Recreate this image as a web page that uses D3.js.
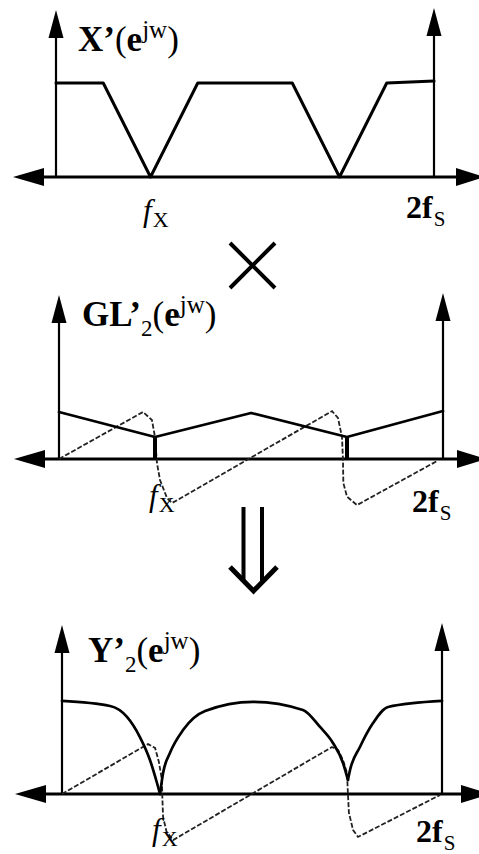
<!DOCTYPE html>
<html><head><meta charset="utf-8">
<script src="https://cdn.jsdelivr.net/npm/d3@7"></script>
<style>html,body{margin:0;padding:0;background:#fff;} svg{display:block;}</style>
</head><body>
<script>
// Frequency axis runs from 0 to 2 (units of f_s); magnitudes are relative.
const freqDomain = [0, 2];

// X'(e^jw): trapezoidal spectrum with nulls at f_x and its mirror
const xMag = [[0,1],[0.25,1],[0.5,0],[0.75,1],[1.25,1],[1.5,0],[1.75,1],[2,1.02]];

// GL'_2(e^jw): magnitude (solid) and phase (dashed)
const glMag = [[0,0.5],[0.5,0.234],[1,0.49],[1.5,0.234],[2,0.51]];
const glNotches = [0.5, 1.5];
const glPhase = [[0,0],[0.4375,0.5],[0.484,0.415],[0.5,0.234],[0.51,-0.04],[0.526,-0.223],[0.5625,-0.415],[0.589,-0.468],
  [1.422,0.51],[1.453,0.436],[1.474,0.234],[1.479,-0.01],[1.481,-0.255],[1.5,-0.4],[1.552,-0.49],[1.97,-0.02]];

// Y'_2(e^jw): product magnitude (three lobes) and phase
const yMagArcs = [
  [[0,0.99],[0.253,0.936],[0.342,0.82],[0.41,0.606],[0.463,0.362],[0.5,0.117],[0.516,0]],
  [[0.516,0],[0.532,0.223],[0.568,0.436],[0.637,0.68],[0.753,0.883],[1.005,0.98],[1.268,0.894],[1.358,0.713],[1.426,0.543],[1.479,0.33],[1.505,0.15]],
  [[1.505,0.15],[1.516,0.255],[1.568,0.5],[1.637,0.755],[1.716,0.926],[2,0.99]]
];
const yPhase = [[0,0],[0.453,0.532],[0.49,0.49],[0.51,0.34],[0.526,0.149],[0.528,-0.03],[0.532,-0.245],[0.55,-0.4],[0.585,-0.49],
  [1.421,0.5],[1.453,0.468],[1.479,0.36],[1.5,0.223],[1.505,0],[1.51,-0.2],[1.532,-0.383],[1.558,-0.457],[1.99,-0.01]];

// axis labels
const fxLabel = ["f", "X"];
const fsLabel = ["2f", "S"];

const W = 479, H = 854;
const svg = d3.select("body").append("svg").attr("width", W).attr("height", H);
const SERIF = "'Liberation Serif','Times New Roman',serif";

// panel frames
const frames = [
  {x0:56, x1:434, base:177, tipL:10, tipR:8,  left:13, rightBase:456,
   title:{x:78, y:51, main:"X’", sub:null}, fx:{x:143, y:221, dy:6}, fs:{x:406, y:218}},
  {x0:59, x1:443, base:459, tipL:295, tipR:293, left:14, rightBase:457,
   title:{x:82, y:326, main:"GL’", sub:"2"}, fx:{x:149, y:506, dy:6}, fs:{x:412, y:512}},
  {x0:62, x1:442, base:794, tipL:625, tipR:623, left:15, rightBase:461,
   title:{x:88, y:662, main:"Y’", sub:"2"}, fx:{x:152, y:840, dy:6}, fs:{x:416, y:842}}
];

const unitPx = 94;

function makeScales(f) {
  const x = d3.scaleLinear().domain(freqDomain).range([f.x0, f.x1]);
  const y = d3.scaleLinear().domain([0, 1]).range([f.base, f.base - unitPx]);
  return {x, y};
}

function drawFrame(f, s) {
  const g = svg.append("g");
  const yb = s.y(0);
  // horizontal axis with arrowheads at both ends
  g.append("line").attr("x1", f.left + 10).attr("x2", f.rightBase + 5)
    .attr("y1", yb).attr("y2", yb).attr("stroke", "#000").attr("stroke-width", 3);
  g.append("path").attr("d", `M${f.left},${yb} L${f.left + 31},${yb - 9} L${f.left + 31},${yb + 9} Z`).attr("fill", "#000");
  g.append("path").attr("d", `M${f.rightBase + 29},${yb} L${f.rightBase},${yb - 9} L${f.rightBase},${yb + 9} Z`).attr("fill", "#000");
  // vertical axes at 0 and 2f_s
  [[s.x(freqDomain[0]), f.tipL], [s.x(freqDomain[1]), f.tipR]].forEach(([vx, tip]) => {
    g.append("line").attr("x1", vx).attr("x2", vx).attr("y1", tip + 15).attr("y2", yb)
      .attr("stroke", "#000").attr("stroke-width", 2.2);
    g.append("path").attr("d", `M${vx},${tip} L${vx - 7.5},${tip + 28} L${vx + 7.5},${tip + 28} Z`).attr("fill", "#000");
  });
  return g;
}

function drawTitle(f) {
  const t = svg.append("text").attr("x", f.title.x).attr("y", f.title.y)
    .attr("font-family", SERIF).attr("fill", "#000");
  t.append("tspan").attr("font-weight", "bold").attr("font-size", 35).text(f.title.main);
  let shift = 0;
  if (f.title.sub) {
    t.append("tspan").attr("font-size", 23).attr("dy", 10).text(f.title.sub);
    shift = 10;
  }
  t.append("tspan").attr("font-size", 35).attr("dy", -shift).text("(");
  t.append("tspan").attr("font-weight", "bold").attr("font-size", 35).text("e");
  t.append("tspan").attr("font-size", 25).attr("dy", -13).text("jw");
  t.append("tspan").attr("font-size", 35).attr("dy", 13).text(")");
}

function drawTicks(f) {
  const a = svg.append("text").attr("x", f.fx.x).attr("y", f.fx.y).attr("font-family", SERIF).attr("fill", "#000");
  a.append("tspan").attr("font-style", "italic").attr("font-size", 31).text(fxLabel[0]);
  a.append("tspan").attr("font-size", 22).attr("dy", f.fx.dy).attr("dx", 1).text(fxLabel[1]);
  const b = svg.append("text").attr("x", f.fs.x).attr("y", f.fs.y).attr("font-family", SERIF).attr("fill", "#000");
  b.append("tspan").attr("font-weight", "bold").attr("font-size", 32).text(fsLabel[0]);
  b.append("tspan").attr("font-size", 21).attr("dy", 8).attr("dx", 1).text(fsLabel[1]);
}

const solid = (sel, w) => sel.attr("fill", "none").attr("stroke", "#000").attr("stroke-width", w)
  .attr("stroke-linejoin", "round").attr("stroke-linecap", "round");
const dashed = sel => sel.attr("fill", "none").attr("stroke", "#222").attr("stroke-width", 1.8)
  .attr("stroke-dasharray", "5 2");

// ---- panel 1: X'(e^jw)
{
  const f = frames[0], s = makeScales(f);
  drawFrame(f, s);
  const line = d3.line().x(d => s.x(d[0])).y(d => s.y(d[1]));
  solid(svg.append("path").attr("d", line(xMag)), 3);
  drawTitle(f); drawTicks(f);
}

// ---- panel 2: GL'_2(e^jw)
{
  const f = frames[1], s = makeScales(f);
  drawFrame(f, s);
  const line = d3.line().x(d => s.x(d[0])).y(d => s.y(d[1]));
  dashed(svg.append("path").attr("d", line(glPhase)));
  solid(svg.append("path").attr("d", line(glMag)), 2.7);
  glNotches.forEach(n => {
    const v = glMag.find(d => d[0] === n)[1];
    svg.append("line").attr("x1", s.x(n)).attr("x2", s.x(n)).attr("y1", s.y(v)).attr("y2", s.y(0))
      .attr("stroke", "#000").attr("stroke-width", 4);
  });
  drawTitle(f); drawTicks(f);
}

// ---- panel 3: Y'_2(e^jw)
{
  const f = frames[2], s = makeScales(f);
  drawFrame(f, s);
  const line = d3.line().x(d => s.x(d[0])).y(d => s.y(d[1]));
  dashed(svg.append("path").attr("d", line(yPhase)));
  const arc = d3.line().x(d => s.x(d[0])).y(d => s.y(d[1])).curve(d3.curveMonotoneX);
  yMagArcs.forEach(a => solid(svg.append("path").attr("d", arc(a)), 2.7));
  drawTitle(f); drawTicks(f);
}

// multiplication sign between the first two spectra
svg.append("path").attr("d", "M230,243 L275,288 M275,243 L230,288")
  .attr("stroke", "#000").attr("stroke-width", 4).attr("fill", "none");

// double down arrow between the last two spectra
svg.append("path").attr("d", "M243.5,507 L243.5,581 M262,507 L262,582")
  .attr("stroke", "#000").attr("stroke-width", 4).attr("fill", "none");
svg.append("path").attr("d", "M230,567 L253.5,591 L277,567")
  .attr("stroke", "#000").attr("stroke-width", 5).attr("fill", "none").attr("stroke-linejoin", "miter");
</script>
</body></html>
